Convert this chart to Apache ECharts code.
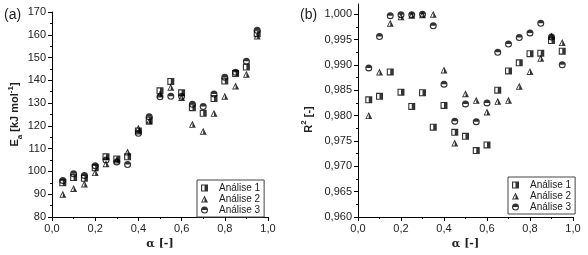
<!DOCTYPE html>
<html>
<head>
<meta charset="utf-8">
<script src="https://cdn.jsdelivr.net/npm/echarts@6/dist/echarts.min.js"></script>
<style>
  html, body { margin: 0; padding: 0; background: #fff; }
  #chart { width: 588px; height: 255px; }
</style>
</head>
<body>
<div id="chart"></div>
<script>
const alpha = [0.05, 0.10, 0.15, 0.20, 0.25, 0.30, 0.35, 0.40, 0.45, 0.50,
  0.55, 0.60, 0.65, 0.70, 0.75, 0.80, 0.85, 0.90, 0.95];

// (a) activation energy, kJ/mol
const ea1 = [95, 97.3, 97, 101.6, 106.4, 105.5, 106.4, 117.8, 122.5, 135.4,
  139.5, 134.5, 128, 125.5, 132, 139.7, 143, 145.8, 160.5];
const ea2 = [90, 92.5, 94.5, 99.5, 103.4, 105, 108.5, 119, 122, 134,
  137, 132.5, 120.7, 117.7, 125.5, 133, 137.5, 142.7, 159.5];
const ea3 = [96, 99, 98.2, 102.5, 105, 104.2, 103, 116.8, 124, 132.8,
  133, 133, 129.5, 128.5, 134, 141.4, 143.5, 148.4, 162];

// (b) R²
const r1 = [0.9831, 0.9838, 0.9886, 0.9846, 0.9818, 0.9845, 0.9777, 0.9820, 0.9767, 0.9759,
  0.9731, 0.9742, 0.9850, 0.9888, 0.9904, 0.9922, 0.9923, 0.9948, 0.9927];
const r2 = [0.9800, 0.9886, 0.9982, 0.9995, 0.9998, 0.9999, 1.0000, 0.9890, 0.9746, 0.9843,
  0.9830, 0.9807, 0.9828, 0.9830, 0.9858, 0.9887, 0.9913, 0.9957, 0.9944];
const r3 = [0.9894, 0.9956, 0.9997, 0.9999, 0.9999, 1.0000, 0.9977, 0.9862, 0.9789, 0.9823,
  0.9788, 0.9825, 0.9925, 0.9941, 0.9954, 0.9963, 0.9982, 0.9955, 0.9900];

const names = ['Análise 1', 'Análise 2', 'Análise 3'];
const eaTicks = [80, 90, 100, 110, 120, 130, 140, 150, 160, 170];
const r2Ticks = [0.960, 0.965, 0.970, 0.975, 0.980, 0.985, 0.990, 0.995, 1.000];

// half filled markers: outline ring (reverse winding) + filled half
const symSquare = 'path://M0 0L10 0L10 10L0 10Z M1.6 1.6L1.6 8.4L8.4 8.4L8.4 1.6Z M5 0L10 0L10 10L5 10Z';
const symTri = 'path://M5 0L10 10L0 10Z M5 2.9L1.9 8.7L8.1 8.7Z M5 0L10 10L5 10Z';
const symCircle = 'path://M0 5A5 5 0 1 1 10 5A5 5 0 1 1 0 5Z M1.5 5A3.5 3.5 0 1 0 8.5 5A3.5 3.5 0 1 0 1.5 5Z M0 5A5 5 0 0 1 10 5Z';
const symbols = [symSquare, symTri, symCircle];

const comma = (v, d) => v.toFixed(d).replace('.', ',');
const font = 'Liberation Sans, Arial, sans-serif';

function xAxis(grid) {
  return {
    type: 'value', gridIndex: grid, min: 0, max: 1, interval: 0.2,
    name: 'α [-]', nameLocation: 'middle', nameGap: 22,
    nameTextStyle: { fontFamily: 'DejaVu Serif, serif', fontSize: 11, fontWeight: 'bold', color: '#222' },
    axisLine: { lineStyle: { color: '#000', width: 1 } },
    axisTick: { length: 4, lineStyle: { color: '#000' } },
    minorTick: { show: true, splitNumber: 2, length: 2, lineStyle: { color: '#000' } },
    splitLine: { show: false },
    axisLabel: { margin: 6, fontSize: 11, fontFamily: font, color: '#222', formatter: v => comma(v, 1) }
  };
}

function series(name, i, data, grid) {
  return {
    name: name, type: 'scatter', xAxisIndex: grid, yAxisIndex: grid,
    symbol: symbols[i], symbolSize: 7,
    itemStyle: { color: '#000' },
    data: alpha.map((a, k) => [a, data[k]])
  };
}

function legend(left, top) {
  return {
    orient: 'vertical', left: left, top: top,
    data: names.map((n, i) => ({ name: n, icon: symbols[i] })),
    itemWidth: 7, itemHeight: 7, itemGap: 1,
    padding: [3, 4, 2, 4],
    borderColor: '#444', borderWidth: 1,
    textStyle: { fontFamily: font, fontSize: 10, color: '#222', lineHeight: 10, padding: [0, 0, 0, 6] },
    selectedMode: false
  };
}

const chart = echarts.init(document.getElementById('chart'));
chart.setOption({
  animation: false,
  backgroundColor: '#fff',
  grid: [
    { left: 52, top: 12, width: 216, height: 208 },
    { left: 358, top: 4, width: 215, height: 213.7 }
  ],
  xAxis: [xAxis(0), xAxis(1)],
  yAxis: [
    {
      type: 'value', gridIndex: 0, min: 80, max: 170, interval: 10,
      name: '{b|E}{s|a}{b| [kJ mol}{p|-1}{b|]}', nameLocation: 'middle', nameGap: 30, nameRotate: 90,
      nameTextStyle: {
        rich: {
          b: { fontFamily: font, fontSize: 11, fontWeight: 'bold', color: '#222', lineHeight: 14, verticalAlign: 'bottom' },
          s: { fontFamily: font, fontSize: 8, fontWeight: 'bold', color: '#222', lineHeight: 14, verticalAlign: 'bottom', padding: [0, 0, -3, 0] },
          p: { fontFamily: font, fontSize: 8, fontWeight: 'bold', color: '#222', lineHeight: 14, verticalAlign: 'top' }
        }
      },
      axisLine: { show: true, lineStyle: { color: '#000', width: 1 } },
      axisTick: { show: true, length: 4, lineStyle: { color: '#000' }, customValues: eaTicks },
      minorTick: { show: true, splitNumber: 2, length: 2, lineStyle: { color: '#000' } },
      splitLine: { show: false },
      axisLabel: { margin: 6, fontSize: 11, fontFamily: font, color: '#222', customValues: eaTicks }
    },
    {
      type: 'value', gridIndex: 1, min: 0.96, max: 1.002, interval: 0.005,
      name: '{b|R}{p|2}{b| [-]}', nameLocation: 'middle', nameGap: 44, nameRotate: 90,
      nameTextStyle: {
        padding: [0, 0, 0, -18],
        rich: {
          b: { fontFamily: font, fontSize: 11, fontWeight: 'bold', color: '#222', lineHeight: 14, verticalAlign: 'bottom' },
          p: { fontFamily: font, fontSize: 8, fontWeight: 'bold', color: '#222', lineHeight: 14, verticalAlign: 'top' }
        }
      },
      axisLine: { show: true, lineStyle: { color: '#000', width: 1 } },
      axisTick: { show: true, length: 4, lineStyle: { color: '#000' }, customValues: r2Ticks },
      minorTick: { show: true, splitNumber: 2, length: 2, lineStyle: { color: '#000' } },
      splitLine: { show: false },
      axisLabel: { margin: 6, fontSize: 11, fontFamily: font, color: '#222', customValues: r2Ticks, formatter: v => comma(v, 3) }
    }
  ],
  legend: [legend(197, 180), legend(508, 177)],
  graphic: [
    { type: 'text', left: 4, top: 8, style: { text: '(a)', font: '14px ' + font, fill: '#222' } },
    { type: 'text', left: 300, top: 8, style: { text: '(b)', font: '14px ' + font, fill: '#222' } }
  ],
  series: [
    series(names[0], 0, ea1, 0),
    series(names[1], 1, ea2, 0),
    series(names[2], 2, ea3, 0),
    series(names[0], 0, r1, 1),
    series(names[1], 1, r2, 1),
    series(names[2], 2, r3, 1)
  ]
});
</script>
</body>
</html>
